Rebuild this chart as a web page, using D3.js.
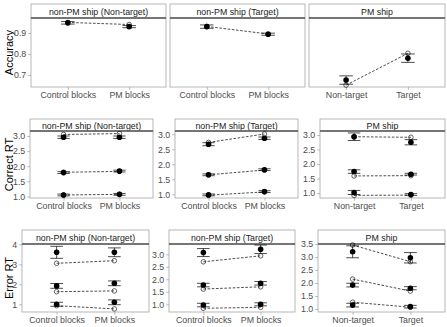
<!DOCTYPE html>
<html>
<head>
<meta charset="utf-8">
<script src="https://cdn.jsdelivr.net/npm/d3@7"></script>
<style>
  html, body { margin: 0; padding: 0; background: #fff; }
  svg { display: block; font-family: "Liberation Sans", Arial, sans-serif; }
</style>
</head>
<body>
<script>
// ---------------- DATA ----------------
const rowTitles = ["Accuracy", "Correct RT", "Error RT"];
const panelNames = ["non-PM ship (Non-target)", "non-PM ship (Target)", "PM ship"];
const blockLevels = ["Control blocks", "PM blocks"];
const pmLevels = ["Non-target", "Target"];

// Accuracy: [panel][x level]
const accObs  = [[0.948, 0.930], [0.930, 0.894], [0.676, 0.780]];
const accErr  = [[0.006, 0.005], [0.008, 0.005], [0.020, 0.020]];
const accPred = [[0.950, 0.940], [0.931, 0.895], [0.652, 0.803]];

// Correct RT: [panel][x level][quantile 0.1, 0.5, 0.9]
const crtObs  = [[[1.05, 1.79, 2.96], [1.07, 1.84, 2.96]],
                 [[0.98, 1.65, 2.67], [1.09, 1.82, 2.87]],
                 [[1.02, 1.74, 2.94], [0.95, 1.65, 2.75]]];
const crtErr  = [[[0.03, 0.03, 0.04], [0.03, 0.03, 0.04]],
                 [[0.03, 0.03, 0.05], [0.03, 0.03, 0.04]],
                 [[0.07, 0.06, 0.13], [0.03, 0.03, 0.09]]];
const crtPred = [[[1.05, 1.80, 3.05], [1.07, 1.83, 3.08]],
                 [[0.97, 1.65, 2.73], [1.08, 1.81, 3.01]],
                 [[0.92, 1.59, 2.94], [0.93, 1.60, 2.92]]];

// Error RT: [panel][x level][quantile]
const ertObs  = [[[1.00, 1.92, 3.60], [1.10, 2.05, 3.60]],
                 [[0.97, 1.77, 3.07], [1.00, 1.84, 3.20]],
                 [[1.15, 1.92, 3.20], [1.09, 1.80, 2.97]]];
const ertErr  = [[[0.10, 0.12, 0.30], [0.12, 0.12, 0.22]],
                 [[0.07, 0.07, 0.16], [0.06, 0.07, 0.17]],
                 [[0.07, 0.07, 0.23], [0.05, 0.06, 0.20]]];
const ertPred = [[[0.93, 1.63, 3.05], [0.77, 1.67, 3.18]],
                 [[0.84, 1.61, 2.70], [0.88, 1.70, 2.94]],
                 [[1.26, 2.15, 3.46], [1.07, 1.69, 2.82]]];

// Tick labels
const accTicks = [0.7, 0.8, 0.9];
const crtTicks = [[1.0, 1.5, 2.0, 2.5, 3.0], [1.0, 1.5, 2.0, 2.5, 3.0], [1.0, 1.5, 2.0, 2.5, 3.0]];
const ertTicks = [[1, 2, 3, 4], [1.0, 1.5, 2.0, 2.5, 3.0], [1.0, 1.5, 2.0, 2.5, 3.0, 3.5]];

// ---------------- LAYOUT ----------------
const W = 447, H = 327;
const layout = [
  { stripTop: 4, stripBot: 18, panelBot: 87,
    panels: [[31, 166], [170, 305], [309, 445]],
    domains: [[0.643, 0.971], [0.643, 0.971], [0.643, 0.971]],
    showY: [true, false, false], fmt: ".1f" },
  { stripTop: 119, stripBot: 131, panelBot: 198,
    panels: [[30, 153], [175, 298], [320, 445]],
    domains: [[0.95, 3.165], [0.877, 3.11], [0.83, 3.137]],
    showY: [true, true, true], fmt: ".1f" },
  { stripTop: 230, stripBot: 244, panelBot: 312,
    panels: [[22, 149], [169, 295], [318, 445]],
    domains: [[0.615, 4.015], [0.692, 3.412], [0.885, 3.5]],
    showY: [true, true, true], fmt: [".0f", ".1f", ".1f"] }
];

const rowData = [
  { obs: accObs.map(p => p.map(v => [v])), err: accErr.map(p => p.map(v => [v])),
    pred: accPred.map(p => p.map(v => [v])), ticks: [accTicks, accTicks, accTicks] },
  { obs: crtObs, err: crtErr, pred: crtPred, ticks: crtTicks },
  { obs: ertObs, err: ertErr, pred: ertPred, ticks: ertTicks }
];

const svg = d3.select("body").append("svg").attr("width", W).attr("height", H);

const borderCol = "#a6a6a6";
const tickCol = "#4d4d4d";

layout.forEach((L, r) => {
  const D = rowData[r];
  // row title
  const midY = (L.stripBot + L.panelBot) / 2;
  svg.append("text")
    .attr("transform", `translate(13,${midY}) rotate(-90)`)
    .attr("text-anchor", "middle")
    .attr("font-size", 11)
    .attr("fill", "#000")
    .text(rowTitles[r]);

  L.panels.forEach((px, p) => {
    const levels = p === 2 ? pmLevels : blockLevels;
    const x = d3.scalePoint().domain(levels).range(px).padding(0.6 * 2 / 1); // placeholder, reset below
    // ggplot discrete: positions 1,2 with 0.6 expansion each side -> range 0.4..2.6
    const unit = (px[1] - px[0]) / 2.2;
    const xPos = d3.scaleLinear().domain([0.4, 2.6]).range(px);
    const xOf = lv => xPos(levels.indexOf(lv) + 1);
    const y = d3.scaleLinear().domain(L.domains[p]).range([L.panelBot, L.stripBot]);
    const g = svg.append("g");

    // strip
    g.append("rect")
      .attr("x", px[0]).attr("y", L.stripTop)
      .attr("width", px[1] - px[0]).attr("height", L.stripBot - L.stripTop)
      .attr("fill", "#fff").attr("stroke", borderCol).attr("stroke-width", 0.8);
    g.append("text")
      .attr("x", (px[0] + px[1]) / 2).attr("y", (L.stripTop + L.stripBot) / 2 + 0.5)
      .attr("dominant-baseline", "central").attr("text-anchor", "middle")
      .attr("font-size", 8.8).attr("fill", "#1a1a1a")
      .text(panelNames[p]);

    // panel border
    g.append("rect")
      .attr("x", px[0]).attr("y", L.stripBot)
      .attr("width", px[1] - px[0]).attr("height", L.panelBot - L.stripBot)
      .attr("fill", "none").attr("stroke", borderCol).attr("stroke-width", 0.8);
    g.append("line")
      .attr("x1", px[0]).attr("x2", px[1]).attr("y1", L.stripBot).attr("y2", L.stripBot)
      .attr("stroke", "#5a5a5a").attr("stroke-width", 1.4);

    // y axis
    if (L.showY[p]) {
      const fmt = Array.isArray(L.fmt) ? L.fmt[p] : L.fmt;
      const ax = d3.axisLeft(y).tickValues(D.ticks[p]).tickFormat(d3.format(fmt))
        .tickSize(2.75).tickPadding(2);
      const ga = g.append("g").attr("transform", `translate(${px[0]},0)`).call(ax);
      ga.select(".domain").remove();
      ga.selectAll(".tick line").attr("stroke", borderCol).attr("stroke-width", 0.8);
      ga.selectAll(".tick text").attr("font-size", 8.8).attr("fill", tickCol)
        .attr("font-family", "Liberation Sans, Arial, sans-serif");
    }
    // x axis
    const xAx = d3.axisBottom(d3.scaleOrdinal().domain(levels).range(levels.map(xOf)))
      .tickSize(2.75).tickPadding(2.5);
    const gx = g.append("g").attr("transform", `translate(0,${L.panelBot})`).call(xAx);
    gx.select(".domain").remove();
    gx.selectAll(".tick line").attr("stroke", borderCol).attr("stroke-width", 0.8);
    gx.selectAll(".tick text").attr("font-size", 8.8).attr("fill", tickCol)
      .attr("font-family", "Liberation Sans, Arial, sans-serif");

    const nq = D.obs[p][0].length;
    const quant = d3.range(nq);

    // dashed lines connecting predictions
    const line = d3.line().x(d => d[0]).y(d => d[1]);
    quant.forEach(q => {
      const pts = levels.map((lv, i) => [xOf(lv), y(D.pred[p][i][q])]);
      g.append("path").attr("d", line(pts)).attr("fill", "none")
        .attr("stroke", "#000").attr("stroke-width", 0.7).attr("stroke-dasharray", "2.6,1.6");
    });
    // open circles (predictions)
    levels.forEach((lv, i) => {
      quant.forEach(q => {
        g.append("circle").attr("cx", xOf(lv)).attr("cy", y(D.pred[p][i][q]))
          .attr("r", 2.3).attr("fill", "none").attr("stroke", "#000").attr("stroke-width", 0.6);
      });
    });
    // error bars + filled points (observed)
    const hw = 0.11 * unit;
    levels.forEach((lv, i) => {
      quant.forEach(q => {
        const cx = xOf(lv), v = D.obs[p][i][q], e = D.err[p][i][q];
        const y1 = y(v + e), y2 = y(v - e);
        g.append("line").attr("x1", cx).attr("x2", cx).attr("y1", y1).attr("y2", y2)
          .attr("stroke", "#000").attr("stroke-width", 0.7);
        [y1, y2].forEach(yy => g.append("line").attr("x1", cx - hw).attr("x2", cx + hw)
          .attr("y1", yy).attr("y2", yy).attr("stroke", "#000").attr("stroke-width", 0.7));
        g.append("circle").attr("cx", cx).attr("cy", y(v)).attr("r", 2.8).attr("fill", "#000");
      });
    });
  });
});
</script>
</body>
</html>
